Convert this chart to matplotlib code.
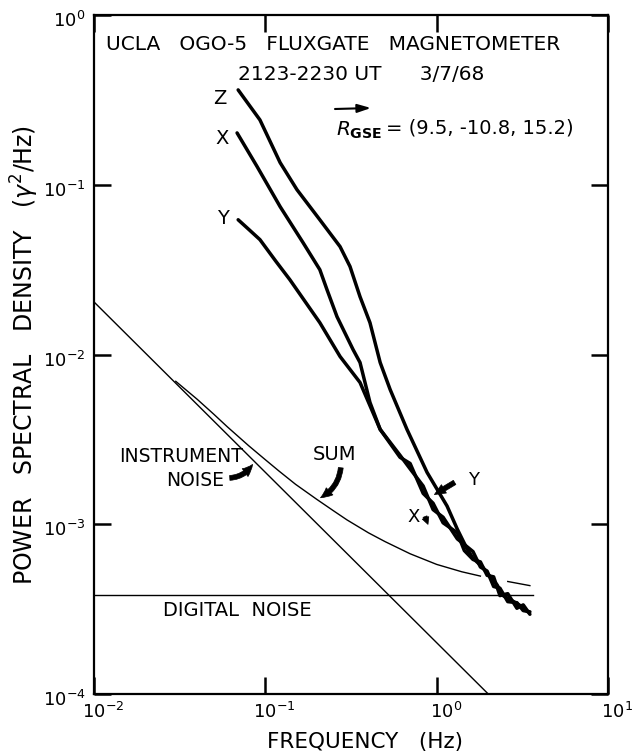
import matplotlib
matplotlib.use("Agg")
import matplotlib.pyplot as plt
import matplotlib.transforms as mtransforms
import numpy as np

# spectra (Hz, gamma^2/Hz)
z_freq = [0.0694, 0.093, 0.122, 0.153, 0.208, 0.273, 0.312, 0.357, 0.408, 0.468, 0.535,
          0.671, 0.879, 1.15, 1.32, 1.5, 1.63, 1.85, 2.05, 2.25, 2.44, 2.75, 3.1, 3.4]
z_psd = [0.362, 0.241, 0.135, 0.0935, 0.0622, 0.0432, 0.033, 0.0219, 0.0154, 0.00897, 0.00622,
         0.00362, 0.00202, 0.00128, 9.35e-4, 7.2e-4, 6.3e-4, 5.6e-4, 4.9e-4, 4.4e-4, 3.8e-4,
         3.55e-4, 3.3e-4, 3.05e-4]

x_freq = [0.0684, 0.0895, 0.122, 0.166, 0.208, 0.229, 0.262, 0.325, 0.357, 0.408, 0.468,
          0.611, 0.70, 0.834, 0.953, 1.09, 1.32, 1.45, 1.63, 1.8, 1.97, 2.15, 2.34, 2.6, 2.94,
          3.2, 3.5]
x_psd = [0.202, 0.128, 0.0743, 0.0456, 0.0316, 0.0241, 0.0167, 0.0107, 0.00897,
         0.00522, 0.00362, 0.00255, 0.00212, 0.00168, 0.00122, 0.00110, 8.2e-4, 7.6e-4, 6.9e-4,
         5.6e-4, 5.3e-4, 4.3e-4, 4.2e-4, 3.5e-4, 3.45e-4, 3.1e-4, 3.05e-4]

y_freq = [0.0694, 0.08, 0.093, 0.115, 0.139, 0.208, 0.273, 0.357, 0.468, 0.611, 0.70, 0.834,
          0.953, 1.09, 1.32, 1.45, 1.63, 1.8, 1.97, 2.15, 2.34, 2.6, 2.94, 3.2, 3.5]
y_psd = [0.0622, 0.0546, 0.0475, 0.0355, 0.0276, 0.0154, 0.00973, 0.00684, 0.00362, 0.00248,
         0.00228, 0.00152, 0.00133, 0.00102, 8.9e-4, 7.0e-4, 6.2e-4, 6.0e-4, 5.0e-4, 4.9e-4,
         3.8e-4, 3.9e-4, 3.2e-4, 3.35e-4, 2.95e-4]

sum_freq = [0.03, 0.04, 0.05, 0.06, 0.08, 0.1, 0.12, 0.15, 0.2, 0.25, 0.3, 0.4, 0.5, 0.7,
            1.0, 1.4, 1.8]
sum_psd = [6.95e-3, 5.45e-3, 4.45e-3, 3.75e-3, 2.9e-3, 2.4e-3, 2.06e-3, 1.72e-3, 1.4e-3,
           1.2e-3, 1.06e-3, 8.9e-4, 7.9e-4, 6.7e-4, 5.8e-4, 5.25e-4, 4.95e-4]
sum_tail_freq = [2.6, 3.5]
sum_tail_psd = [4.6e-4, 4.35e-4]

instr_freq = [0.01, 2.0]
instr_psd = [2.04e-2, 1.0e-4]

digital_freq = [0.01, 3.65]
digital_psd = [3.82e-4, 3.82e-4]

x_ticks = [1e-2, 1e-1, 1e0, 1e1]
x_ticklabels = ['$10^{-2}$', '$10^{-1}$', '$10^{0}$', '$10^{1}$']
y_ticks = [1e-4, 1e-3, 1e-2, 1e-1, 1e0]
y_ticklabels = ['$10^{-4}$', '$10^{-3}$', '$10^{-2}$', '$10^{-1}$', '$10^{0}$']

W, H = 632, 754
L, R, T, B = 94, 608, 15, 694

fig = plt.figure(figsize=(W / 100, H / 100), dpi=100)
ax = fig.add_axes([L / W, 1 - B / H, (R - L) / W, (B - T) / H])
ax.set_xscale('log')
ax.set_yscale('log')
ax.set_xlim(1e-2, 1e1)
ax.set_ylim(1e-4, 1e0)

thick = dict(color='black', lw=2.5, solid_capstyle='round', solid_joinstyle='round')
thin = dict(color='black', lw=1.0)
ax.plot(z_freq, z_psd, **thick)
ax.plot(x_freq, x_psd, **thick)
ax.plot(y_freq, y_psd, **thick)
ax.plot(sum_freq, sum_psd, **thin)
ax.plot(sum_tail_freq, sum_tail_psd, **thin)
ax.plot(instr_freq, instr_psd, **thin)
ax.plot(digital_freq, digital_psd, **thin)

ax.set_xticks(x_ticks)
ax.set_xticklabels(x_ticklabels, fontsize=13)
ax.set_yticks(y_ticks)
ax.set_yticklabels(y_ticklabels, fontsize=13)
ax.minorticks_off()
ax.tick_params(which='major', direction='in', length=12, width=1.8,
               top=True, right=True, pad=6)
for s in ax.spines.values():
    s.set_linewidth(1.6)

# nudge tick labels like the hand lettering: x labels right, y labels down
shift_x = mtransforms.ScaledTranslation(9 / 100, 0, fig.dpi_scale_trans)
for t in ax.get_xticklabels():
    t.set_transform(t.get_transform() + shift_x)
shift_y = mtransforms.ScaledTranslation(0, -4 / 100, fig.dpi_scale_trans)
for t in ax.get_yticklabels():
    t.set_transform(t.get_transform() + shift_y)


def px(x, y):
    # image pixel -> axes fraction
    return ((x - L) / (R - L), (B - y) / (B - T))


def label(x, y, s, **kw):
    kw.setdefault('fontsize', 14)
    ax.text(*px(x, y), s, transform=ax.transAxes, va='center', **kw)


label(106, 45, 'UCLA   OGO-5   FLUXGATE   MAGNETOMETER', ha='left', fontsize=14.5)
label(238, 75, '2123-2230 UT      3/7/68', ha='left', fontsize=14.5)
label(220, 98, 'Z', ha='center')
label(222, 138, 'X', ha='center')
label(223, 218, 'Y', ha='center')
label(336, 130, r'$R_{\mathbf{GSE}}$', ha='left', fontsize=14.5)
label(386, 128, '= (9.5, -10.8, 15.2)', ha='left')
label(243, 457, 'INSTRUMENT', ha='right', fontsize=13.5)
label(224, 480, 'NOISE', ha='right', fontsize=13.5)
label(334, 455, 'SUM', ha='center', fontsize=14)
label(163, 610, 'DIGITAL  NOISE', ha='left', fontsize=14)
label(468, 480, 'Y', ha='left', fontsize=13)
label(414, 517, 'X', ha='center', fontsize=13)

# vector arrow over R
ax.annotate('', xy=px(371, 108), xytext=px(335, 109), xycoords='axes fraction',
            textcoords='axes fraction',
            arrowprops=dict(arrowstyle='-|>,head_width=0.25,head_length=0.8',
                            color='black', lw=1.5, shrinkA=0, shrinkB=0))

arrow = dict(arrowstyle='simple,head_width=0.7,head_length=0.8,tail_width=0.35',
             color='black', lw=0.5)
ax.annotate('', xy=px(254, 462), xytext=px(227, 478), xycoords='axes fraction',
            textcoords='axes fraction',
            arrowprops=dict(connectionstyle='arc3,rad=0.3', **arrow))
ax.annotate('', xy=px(318, 499), xytext=px(341, 465), xycoords='axes fraction',
            textcoords='axes fraction',
            arrowprops=dict(connectionstyle='arc3,rad=-0.3', **arrow))
ax.annotate('', xy=px(432, 496), xytext=px(457, 481), xycoords='axes fraction',
            textcoords='axes fraction',
            arrowprops=dict(connectionstyle='arc3,rad=0.0', **arrow))
ax.annotate('', xy=px(429, 527), xytext=px(424, 514), xycoords='axes fraction',
            textcoords='axes fraction',
            arrowprops=dict(arrowstyle='simple,head_width=0.5,head_length=0.5,tail_width=0.3',
                            color='black', lw=0.5))

fig.text(365 / W, 1 - 742 / H, 'FREQUENCY   (Hz)', ha='center', va='center', fontsize=15.5)
fig.text(25 / W, 1 - 355 / H, r'POWER   SPECTRAL   DENSITY   ($\gamma^2$/Hz)',
         ha='center', va='center', rotation=90, fontsize=17)

fig.savefig('out.png', dpi=100)
